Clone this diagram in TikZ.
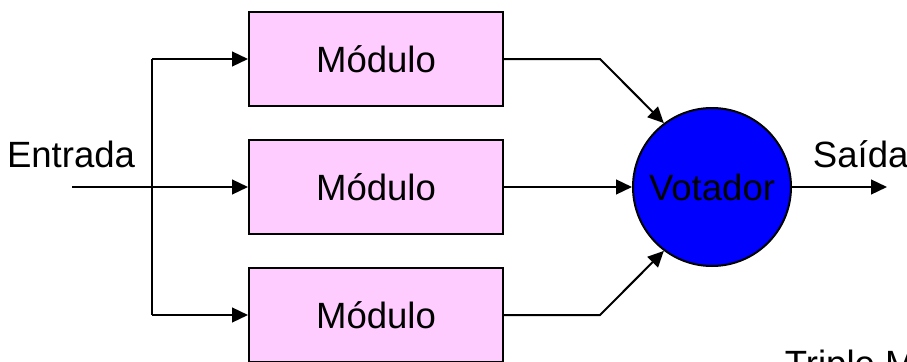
\documentclass[tikz,border=0pt]{standalone}
\usepackage{fontspec}
\setmainfont{Liberation Sans}
\usetikzlibrary{positioning,arrows.meta}
\definecolor{rosa}{RGB}{255,204,255}
\definecolor{azul}{RGB}{0,0,255}

\begin{document}
\begin{tikzpicture}[
    >={Triangle[length=0.4cm,width=0.37cm]},
    every node/.style={font=\fontsize{26}{30}\selectfont},
    line/.style={line width=0.05cm},
    modulo/.style={draw, line width=0.05cm, fill=rosa, minimum width=6.35cm, minimum height=2.35cm},
    votador/.style={draw, circle, line width=0.05cm, fill=azul, minimum size=3.95cm, inner sep=0pt}
  ]

    \useasboundingbox (0,0) rectangle (22.675,9.025);
    \clip (0,0) rectangle (22.675,9.025);

    \node[modulo] (mod1) at (9.4,7.55) {Módulo};
    \node[modulo, below=0.8cm of mod1] (mod2) {Módulo};
    \node[modulo, below=0.8cm of mod2] (mod3) {Módulo};
    \node[votador, right=3.2cm of mod2] (vot) {Votador};

    \coordinate[left=4.4cm of mod2] (in);
    \coordinate[left=2.4cm of mod1] (b1);
    \coordinate[left=2.4cm of mod3] (b3);
    \coordinate[right=2.375cm of vot] (out);

    \draw[line,->] (in) -- (mod2);
    \draw[line] (b1) -- (b3);
    \draw[line,->] (b1) -- (mod1);
    \draw[line,->] (b3) -- (mod3);

    \draw[line,->] (mod1.east) -- ++(2.4,0) -- (vot.127);
    \draw[line,->] (mod2) -- (vot);
    \draw[line,->] (mod3.east) -- ++(2.4,0) -- (vot.233);
    \draw[line,->] (vot) -- (out);

    \node[anchor=base east] (entrada) at (3.5,4.85) {Entrada};
    \node[anchor=base west] (saida) at (20.2,4.85) {Saída};
    \node[anchor=base west] (tmr) at (19.5,-0.375) {Triple Modular Redundancy};

\end{tikzpicture}
\end{document}
